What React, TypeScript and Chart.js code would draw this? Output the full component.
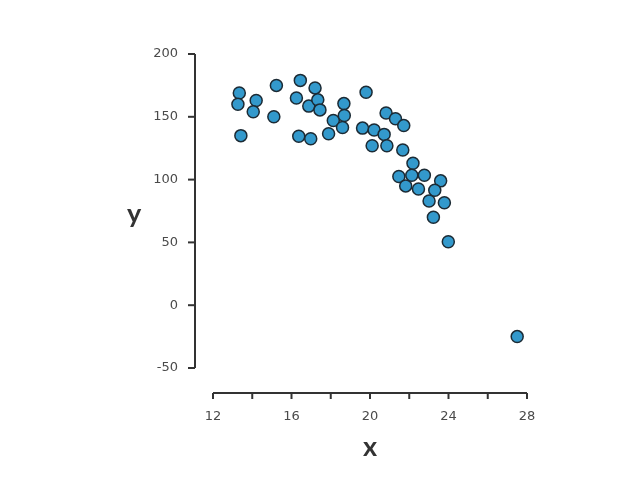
import React, { useEffect, useRef } from "react";
import { Chart, registerables } from "chart.js";

Chart.register(...registerables);

const xValues = [
  13.34, 13.27, 13.42, 14.2, 14.05, 15.23, 15.1, 16.45, 16.25, 16.37, 16.98,
  16.88, 17.2, 17.34, 17.45, 17.89, 18.13, 18.67, 18.69, 18.6, 19.8, 19.62,
  20.21, 20.11, 20.72, 20.86, 20.82, 21.3, 21.72, 21.67, 22.19, 21.47, 22.13,
  22.77, 21.82, 22.47, 23.6, 23.3, 23.01, 23.79, 23.23, 23.99, 27.5,
];
const yValues = [
  169, 160, 135, 163, 154, 175, 150, 179, 165, 134.5, 132.5, 158.5, 173,
  163.5, 155.5, 136.5, 147, 160.5, 151, 141.5, 169.5, 141, 139.5, 127, 136,
  127, 153, 148.5, 143, 123.5, 113, 102.5, 103.5, 103.5, 95, 92.5, 99, 91.5,
  83, 81.5, 70, 50.5, -25,
];
const xTicks = [12, 14, 16, 18, 20, 22, 24, 26, 28];
const xTickLabels = ["12", "", "16", "", "20", "", "24", "", "28"];
const yTicks = [-50, 0, 50, 100, 150, 200];
const xTitle = "x";
const yTitle = "y";

const TICK_FONT = "13px 'DejaVu Sans'";
const TITLE_FONT = "bold 27px Lato";

const axesPlugin = {
  id: "detachedAxes",
  afterDraw(chart: any) {
    const { ctx, chartArea, scales } = chart;
    const xs = scales.x;
    const ys = scales.y;
    const axisX = chartArea.left - 18;
    const axisY = chartArea.bottom + 25;
    ctx.save();
    ctx.strokeStyle = "#333333";
    ctx.lineWidth = 2;
    ctx.beginPath();
    ctx.moveTo(axisX, ys.getPixelForValue(yTicks[yTicks.length - 1]));
    ctx.lineTo(axisX, ys.getPixelForValue(yTicks[0]));
    ctx.stroke();
    ctx.font = TICK_FONT;
    ctx.fillStyle = "#4a4a4a";
    ctx.textAlign = "right";
    ctx.textBaseline = "middle";
    yTicks.forEach((t) => {
      const py = ys.getPixelForValue(t);
      ctx.beginPath();
      ctx.moveTo(axisX - 7, py);
      ctx.lineTo(axisX, py);
      ctx.stroke();
      ctx.fillText(String(t), axisX - 17, py);
    });
    ctx.beginPath();
    ctx.moveTo(xs.getPixelForValue(xTicks[0]), axisY);
    ctx.lineTo(xs.getPixelForValue(xTicks[xTicks.length - 1]), axisY);
    ctx.stroke();
    ctx.textAlign = "center";
    xTicks.forEach((t, i) => {
      const px = xs.getPixelForValue(t);
      ctx.beginPath();
      ctx.moveTo(px, axisY);
      ctx.lineTo(px, axisY + 6);
      ctx.stroke();
      if (xTickLabels[i]) ctx.fillText(xTickLabels[i], px, axisY + 24);
    });
    ctx.font = TITLE_FONT;
    ctx.fillStyle = "#333333";
    ctx.fillText(xTitle, xs.getPixelForValue(20), axisY + 54);
    ctx.fillText(yTitle, axisX - 61, ys.getPixelForValue(72));
    ctx.restore();
  },
};

export default function App() {
  const ref = useRef<HTMLCanvasElement | null>(null);
  useEffect(() => {
    let chart: Chart | null = null;
    let cancelled = false;
    const build = () => {
      if (cancelled || !ref.current) return;
      chart = new Chart(ref.current, {
        type: "scatter",
        data: {
          datasets: [
            {
              data: xValues.map((x, i) => ({ x, y: yValues[i] })),
              backgroundColor: "#3399cc",
              borderColor: "#1c2b35",
              borderWidth: 1.5,
              pointRadius: 6,
              clip: false,
            } as any,
          ],
        },
        options: {
          responsive: false,
          animation: false,
          devicePixelRatio: 1,
          layout: { padding: { left: 213, right: 95, top: 54, bottom: 113 } },
          plugins: { legend: { display: false }, tooltip: { enabled: false } },
          scales: {
            x: { type: "linear", min: 12, max: 28, display: false },
            y: { type: "linear", min: -50, max: 200, display: false },
          },
        },
        plugins: [axesPlugin],
      });
    };
    const fonts: any = (document as any).fonts;
    if (fonts && fonts.load) {
      Promise.all([fonts.load(TITLE_FONT, "xy"), fonts.load(TICK_FONT, "0123456789-")])
        .catch(() => null)
        .then(build);
    } else {
      build();
    }
    return () => {
      cancelled = true;
      if (chart) chart.destroy();
    };
  }, []);
  return (
    <div style={{ position: "absolute", left: 0, top: 0, width: 622, height: 481, background: "#fff" }}>
      <canvas ref={ref} width={622} height={481} />
    </div>
  );
}
